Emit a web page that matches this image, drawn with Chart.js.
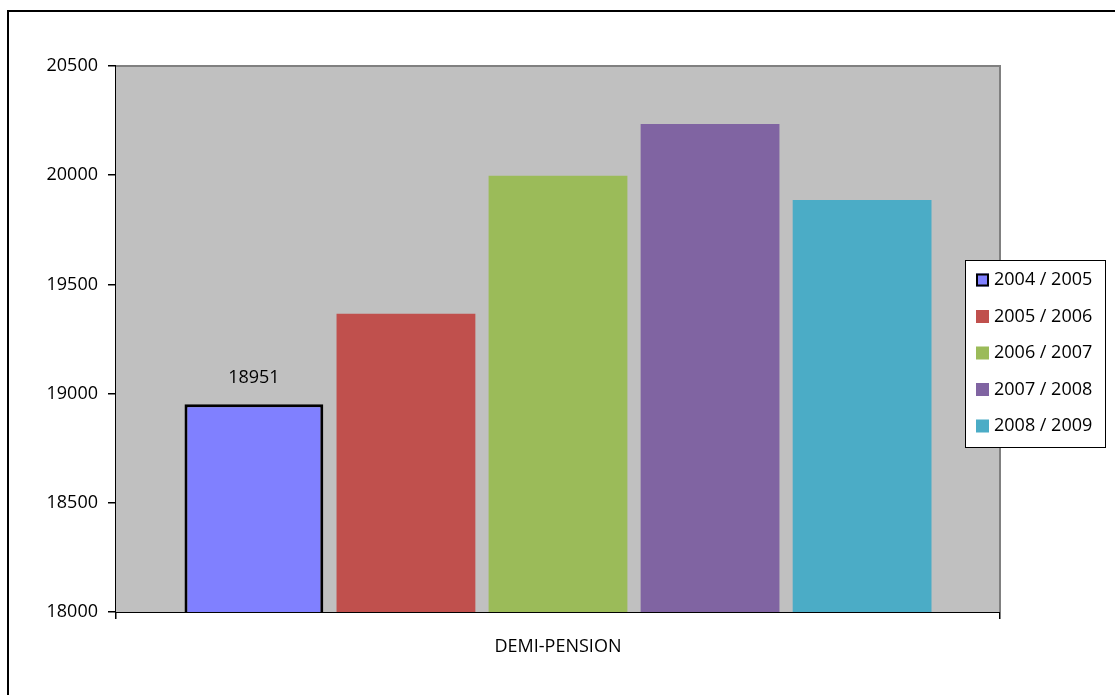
<!DOCTYPE html>
<html>
<head>
<meta charset="utf-8">
<script src="https://cdn.jsdelivr.net/npm/chart.js@4/dist/chart.umd.min.js"></script>
<style>
    html, body { margin: 0; padding: 0; background: #fff; }
    canvas { display: block; }
</style>
</head>
<body>
<canvas id="demiPensionChart" width="1115" height="695"></canvas>
<script>
(function () {
    const categories = ['DEMI-PENSION'];
    const seasons = ['2004 / 2005', '2005 / 2006', '2006 / 2007', '2007 / 2008', '2008 / 2009'];
    const values = [18951, 19366, 19997, 20235, 19887];
    const colors = ['#8080FF', '#C0504D', '#9BBB59', '#8064A2', '#4BACC6'];
    const yTicks = [18000, 18500, 19000, 19500, 20000, 20500];

    const FONT = { family: "'Open Sans', 'Noto Sans', sans-serif", size: 18 };

    // fond gris + cadre de la zone de tracé
    const plotArea = {
        id: 'plotArea',
        beforeDatasetsDraw(chart) {
            const { ctx, chartArea: a } = chart;
            ctx.save();
            ctx.fillStyle = '#C0C0C0';
            ctx.fillRect(a.left, a.top, a.right - a.left, a.bottom - a.top);
            ctx.restore();
        },
        afterDatasetsDraw(chart) {
            const { ctx, chartArea: a } = chart;
            ctx.save();
            ctx.strokeStyle = '#808080';
            ctx.lineWidth = 2;
            ctx.beginPath();
            ctx.moveTo(a.left, a.top);
            ctx.lineTo(a.right, a.top);
            ctx.lineTo(a.right, a.bottom);
            ctx.stroke();
            ctx.restore();
        }
    };

    // étiquette de valeur sur la première barre + légende + cadre extérieur
    const extras = {
        id: 'extras',
        afterDraw(chart) {
            const { ctx } = chart;
            ctx.save();

            const bar = chart.getDatasetMeta(0).data[0];
            ctx.font = FONT.size + 'px ' + FONT.family;
            ctx.fillStyle = '#000';
            ctx.textAlign = 'center';
            ctx.textBaseline = 'middle';
            ctx.fillText(String(values[0]), bar.x, bar.y - 26);

            // légende
            const lx = 965, ly = 260, lw = 140, lh = 187;
            ctx.fillStyle = '#fff';
            ctx.fillRect(lx, ly, lw, lh);
            ctx.strokeStyle = '#000';
            ctx.lineWidth = 1;
            ctx.strokeRect(lx + 0.5, ly + 0.5, lw, lh);
            ctx.textAlign = 'left';
            chart.data.datasets.forEach((ds, i) => {
                const cy = 280 + i * 36.5;
                ctx.fillStyle = ds.backgroundColor;
                ctx.fillRect(976, cy - 6.5, 13, 13);
                if (i === 0) {
                    ctx.strokeStyle = '#000';
                    ctx.lineWidth = 2;
                    ctx.strokeRect(977, cy - 5.5, 11, 11);
                }
                ctx.fillStyle = '#000';
                ctx.fillText(ds.label, 994, cy);
            });

            // cadre extérieur
            ctx.strokeStyle = '#000';
            ctx.lineWidth = 2;
            ctx.beginPath();
            ctx.moveTo(8, 695);
            ctx.lineTo(8, 11);
            ctx.lineTo(1115, 11);
            ctx.stroke();
            ctx.restore();
        }
    };

    new Chart(document.getElementById('demiPensionChart').getContext('2d'), {
        type: 'bar',
        data: {
            labels: categories,
            datasets: seasons.map((s, i) => ({
                label: s,
                data: [values[i]],
                backgroundColor: colors[i],
                borderColor: i === 0 ? '#000' : colors[i],
                borderWidth: i === 0 ? 3 : 0,
                borderSkipped: false,
                barPercentage: 0.913,
                categoryPercentage: 0.86
            }))
        },
        options: {
            responsive: false,
            animation: false,
            layout: { padding: { left: 0, top: 66, right: 115, bottom: 0 } },
            plugins: {
                legend: { display: false },
                tooltip: { enabled: false }
            },
            scales: {
                x: {
                    afterFit: (scale) => { scale.height = 83; },
                    grid: {
                        offset: true,
                        drawOnChartArea: false,
                        tickLength: 7,
                        color: '#000',
                        lineWidth: 1.5
                    },
                    border: { color: '#000', width: 2 },
                    ticks: { color: '#000', font: FONT, padding: 17 }
                },
                y: {
                    min: yTicks[0],
                    max: yTicks[yTicks.length - 1],
                    afterFit: (scale) => { scale.width = 116; },
                    afterBuildTicks: (scale) => { scale.ticks = yTicks.map(v => ({ value: v })); },
                    grid: {
                        drawOnChartArea: false,
                        tickLength: 8,
                        color: '#000',
                        lineWidth: 1.5
                    },
                    border: { color: '#000', width: 2 },
                    ticks: {
                        color: '#000',
                        font: FONT,
                        padding: 10,
                        callback: (v) => String(v)
                    }
                }
            }
        },
        plugins: [plotArea, extras]
    });
})();
</script>
</body>
</html>
